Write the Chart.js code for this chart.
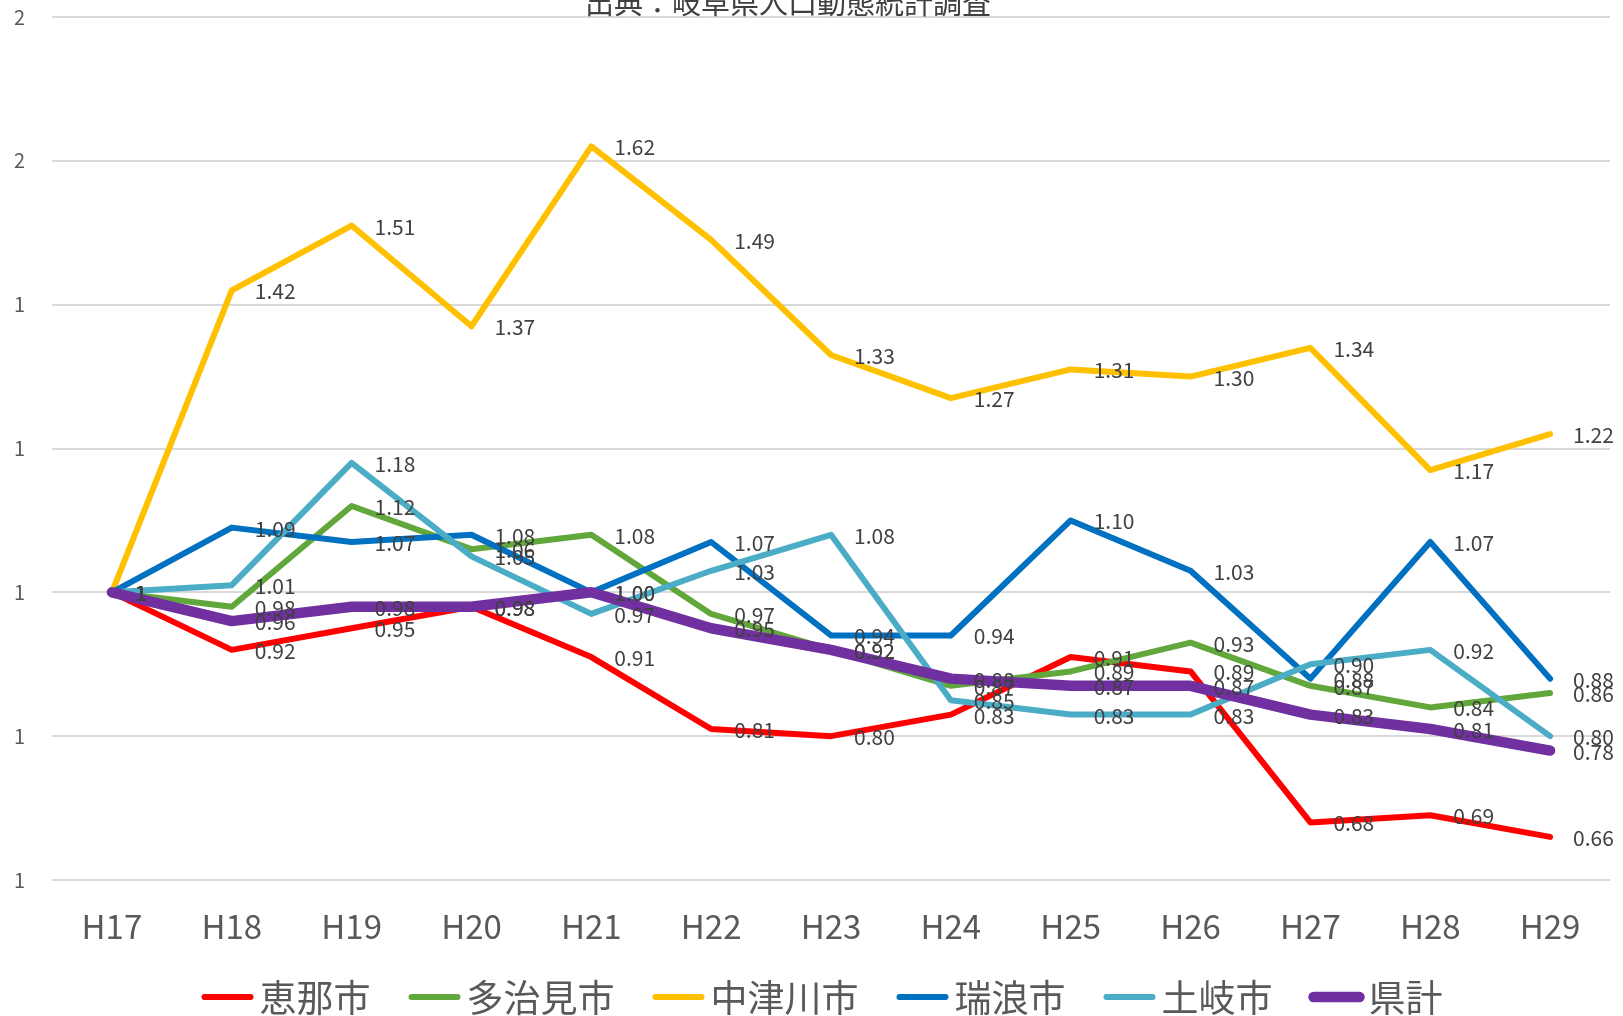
<!DOCTYPE html>
<html>
<head>
<meta charset="utf-8">
<script src="https://cdn.jsdelivr.net/npm/chart.js"></script>
<style>
  body { margin: 0; background: #fff; }
  #wrap { width: 1623px; height: 1016px; }
</style>
</head>
<body>
<div id="wrap"><canvas id="line-chart"></canvas></div>
<script>
// 年度
var labels = ["H17", "H18", "H19", "H20", "H21", "H22", "H23", "H24", "H25", "H26", "H27", "H28", "H29"];

// 各市の値 (H17 = 1)
var ena       = [1, 0.92, 0.95, 0.98, 0.91, 0.81, 0.80, 0.83, 0.91, 0.89, 0.68, 0.69, 0.66];
var tajimi    = [1, 0.98, 1.12, 1.06, 1.08, 0.97, 0.92, 0.87, 0.89, 0.93, 0.87, 0.84, 0.86];
var nakatsu   = [1, 1.42, 1.51, 1.37, 1.62, 1.49, 1.33, 1.27, 1.31, 1.30, 1.34, 1.17, 1.22];
var mizunami  = [1, 1.09, 1.07, 1.08, 1.00, 1.07, 0.94, 0.94, 1.10, 1.03, 0.88, 1.07, 0.88];
var toki      = [1, 1.01, 1.18, 1.05, 0.97, 1.03, 1.08, 0.85, 0.83, 0.83, 0.90, 0.92, 0.80];
var kenkei    = [1, 0.96, 0.98, 0.98, 1.00, 0.95, 0.92, 0.88, 0.87, 0.87, 0.83, 0.81, 0.78];

// y軸目盛
var yTicks = [0.6, 0.8, 1.0, 1.2, 1.4, 1.6, 1.8];

var titleText = "出典：岐阜県人口動態統計調査";
var fontJP = '"Noto Sans CJK JP", "Noto Sans", sans-serif';

function series(label, data, color, width, order) {
    return {
        label: label,
        data: data,
        borderColor: color,
        backgroundColor: color,
        borderWidth: width,
        pointRadius: 0,
        pointHoverRadius: 0,
        tension: 0,
        borderJoinStyle: 'round',
        borderCapStyle: 'round',
        order: order
    };
}

// データラベル (点の右側)
var valueLabels = {
    id: 'valueLabels',
    afterDatasetsDraw: function(chart) {
        var c = chart.ctx;
        c.save();
        c.font = '21px ' + fontJP;
        c.fillStyle = '#404040';
        c.textAlign = 'left';
        c.textBaseline = 'middle';
        chart.data.datasets.forEach(function(ds, i) {
            var meta = chart.getDatasetMeta(i);
            meta.data.forEach(function(pt, j) {
                var v = ds.data[j];
                var txt = j === 0 ? String(v) : v.toFixed(2);
                c.fillText(txt, pt.x + 23, pt.y + 1);
            });
        });
        c.restore();
    }
};

// 上部の出典 (上端で切れている) と凡例
var extras = {
    id: 'extras',
    afterDraw: function(chart) {
        var c = chart.ctx;
        c.save();
        c.font = '29px ' + fontJP;
        c.fillStyle = '#404040';
        c.textAlign = 'center';
        c.textBaseline = 'alphabetic';
        c.fillText(titleText, 788, 14);

        // 凡例
        var lineW = 52, gapText = 6, gapItem = 38, legendY = 997;
        c.font = '37px ' + fontJP;
        c.textBaseline = 'middle';
        c.textAlign = 'left';
        var sets = chart.data.datasets;
        var total = 0;
        sets.forEach(function(ds, i) {
            total += lineW + gapText + c.measureText(ds.label).width;
            if (i < sets.length - 1) total += gapItem;
        });
        var x = (chart.chartArea.left + chart.chartArea.right) / 2 - 9 - total / 2;
        sets.forEach(function(ds) {
            c.strokeStyle = ds.borderColor;
            c.lineWidth = ds.borderWidth;
            c.lineCap = 'round';
            c.beginPath();
            c.moveTo(x + 3, legendY);
            c.lineTo(x + lineW - 3, legendY);
            c.stroke();
            x += lineW + gapText;
            c.fillStyle = '#595959';
            c.fillText(ds.label, x, legendY + 1);
            x += c.measureText(ds.label).width + gapItem;
        });
        c.restore();
    }
};

var ctx = document.getElementById("line-chart");
var chartGraph = new Chart(ctx, {
    type: 'line',
    data: {
        labels: labels,
        datasets: [
            series('恵那市', ena, '#FF0000', 6, 6),
            series('多治見市', tajimi, '#62A73B', 6, 5),
            series('中津川市', nakatsu, '#FFC000', 6, 4),
            series('瑞浪市', mizunami, '#0070C0', 6, 3),
            series('土岐市', toki, '#4BACC6', 6, 2),
            series('県計', kenkei, '#7030A0', 10.5, 1)
        ]
    },
    options: {
        responsive: true,
        maintainAspectRatio: false,
        animation: false,
        layout: {
            padding: { left: 14, right: 13, top: 17, bottom: 66 }
        },
        scales: {
            x: {
                offset: true,
                grid: { display: false, drawTicks: false },
                border: { display: false },
                afterFit: function(scale) { scale.height = 70; },
                ticks: {
                    color: '#595959',
                    font: { family: fontJP, size: 33 },
                    padding: 27
                }
            },
            y: {
                min: yTicks[0],
                max: yTicks[yTicks.length - 1],
                afterBuildTicks: function(axis) {
                    axis.ticks = yTicks.map(function(v) { return { value: v }; });
                },
                afterFit: function(scale) { scale.width = 38; },
                grid: { color: '#D9D9D9', lineWidth: 2, drawTicks: false },
                border: { display: false },
                ticks: {
                    color: '#595959',
                    font: { family: fontJP, size: 20 },
                    padding: 0,
                    crossAlign: 'far',
                    callback: function(value) {
                        return Math.round(value);
                    }
                }
            }
        },
        plugins: {
            title: { display: false },
            tooltip: { enabled: false },
            legend: { display: false }
        }
    },
    plugins: [valueLabels, extras]
});
</script>
</body>
</html>
